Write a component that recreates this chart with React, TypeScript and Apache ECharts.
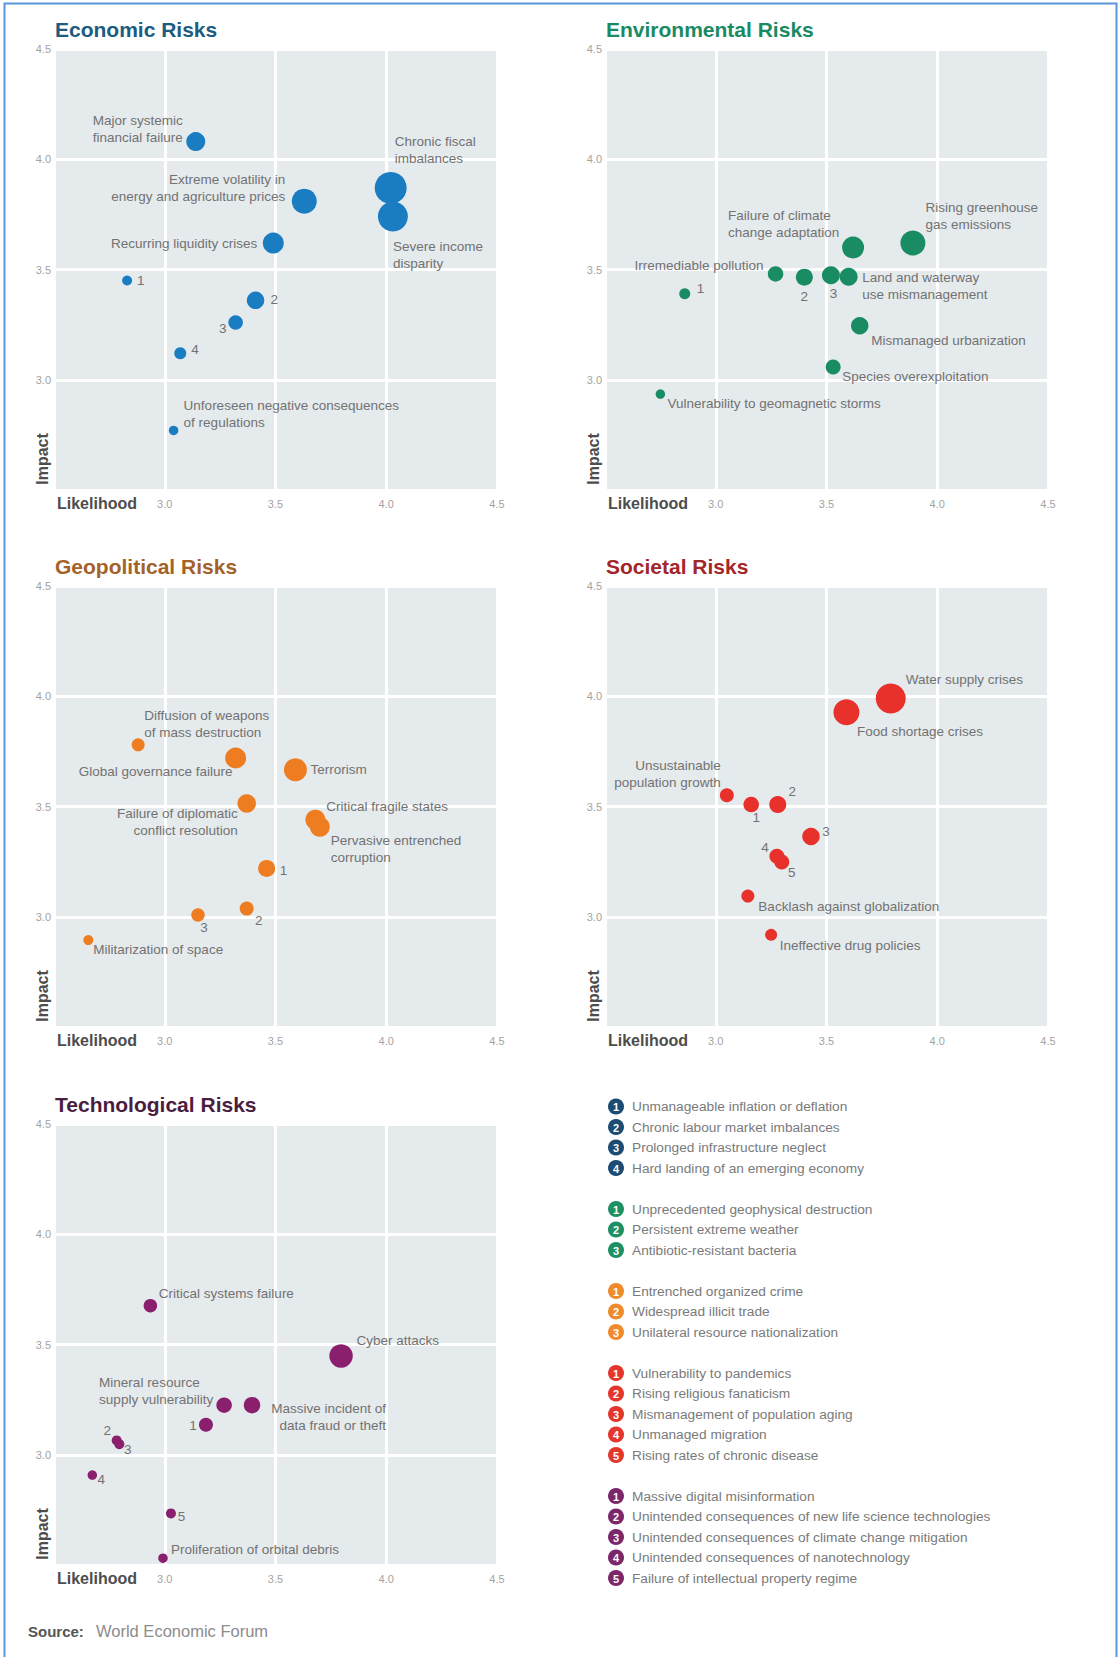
import React, { useEffect, useRef } from "react";
import * as echarts from "echarts";

// ---------- DATA ----------
const econNames = [
  "Major systemic\nfinancial failure",
  "Extreme volatility in\nenergy and agriculture prices",
  "Chronic fiscal\nimbalances",
  "Severe income\ndisparity",
  "Recurring liquidity crises",
  "1",
  "2",
  "3",
  "4",
  "Unforeseen negative consequences\nof regulations",
];
const econLikelihood = [3.14, 3.63, 4.02, 4.03, 3.49, 2.83, 3.41, 3.32, 3.07, 3.04];
const econImpact = [4.08, 3.81, 3.87, 3.74, 3.62, 3.45, 3.36, 3.26, 3.12, 2.77];
const econWeight = [1.9, 2.5, 3.2, 3.0, 2.1, 1.0, 1.75, 1.45, 1.2, 0.95];

const envNames = [
  "Rising greenhouse\ngas emissions",
  "Failure of climate\nchange adaptation",
  "Irremediable pollution",
  "2",
  "3",
  "Land and waterway\nuse mismanagement",
  "Mismanaged urbanization",
  "Species overexploitation",
  "1",
  "Vulnerability to geomagnetic storms",
];
const envLikelihood = [3.89, 3.62, 3.27, 3.4, 3.52, 3.6, 3.65, 3.53, 2.86, 2.75];
const envImpact = [3.62, 3.6, 3.48, 3.465, 3.474, 3.467, 3.245, 3.058, 3.39, 2.935];
const envWeight = [2.5, 2.2, 1.55, 1.7, 1.8, 1.8, 1.75, 1.5, 1.1, 0.95];

const geoNames = [
  "Diffusion of weapons\nof mass destruction",
  "Global governance failure",
  "Terrorism",
  "Failure of diplomatic\nconflict resolution",
  "Critical fragile states",
  "Pervasive entrenched\ncorruption",
  "1",
  "2",
  "3",
  "Militarization of space",
];
const geoLikelihood = [2.88, 3.32, 3.59, 3.37, 3.68, 3.7, 3.46, 3.37, 3.15, 2.655];
const geoImpact = [3.78, 3.72, 3.667, 3.514, 3.44, 3.408, 3.219, 3.037, 3.008, 2.894];
const geoWeight = [1.3, 2.1, 2.3, 1.85, 2.0, 2.0, 1.7, 1.4, 1.35, 1.0];

const socNames = [
  "Water supply crises",
  "Food shortage crises",
  "Unsustainable\npopulation growth",
  "1",
  "2",
  "3",
  "4",
  "5",
  "Backlash against globalization",
  "Ineffective drug policies",
];
const socLikelihood = [3.79, 3.59, 3.05, 3.16, 3.28, 3.43, 3.276, 3.298, 3.145, 3.25];
const socImpact = [3.99, 3.927, 3.551, 3.509, 3.509, 3.364, 3.274, 3.248, 3.094, 2.918];
const socWeight = [3.0, 2.6, 1.4, 1.55, 1.7, 1.75, 1.5, 1.5, 1.3, 1.2];

const techNames = [
  "Critical systems failure",
  "Cyber attacks",
  "Mineral resource\nsupply vulnerability",
  "Massive incident of\ndata fraud or theft",
  "1",
  "2",
  "3",
  "4",
  "5",
  "Proliferation of orbital debris",
];
const techLikelihood = [2.935, 3.796, 3.268, 3.394, 3.186, 2.783, 2.795, 2.673, 3.028, 2.992];
const techImpact = [3.676, 3.448, 3.225, 3.225, 3.136, 3.065, 3.048, 2.908, 2.734, 2.531];
const techWeight = [1.35, 2.35, 1.55, 1.65, 1.4, 1.0, 1.0, 0.95, 1.0, 0.95];

const econLegend = [
  "Unmanageable inflation or deflation",
  "Chronic labour market imbalances",
  "Prolonged infrastructure neglect",
  "Hard landing of an emerging economy",
];
const envLegend = [
  "Unprecedented geophysical destruction",
  "Persistent extreme weather",
  "Antibiotic-resistant bacteria",
];
const geoLegend = [
  "Entrenched organized crime",
  "Widespread illicit trade",
  "Unilateral resource nationalization",
];
const socLegend = [
  "Vulnerability to pandemics",
  "Rising religious fanaticism",
  "Mismanagement of population aging",
  "Unmanaged migration",
  "Rising rates of chronic disease",
];
const techLegend = [
  "Massive digital misinformation",
  "Unintended consequences of new life science technologies",
  "Unintended consequences of climate change mitigation",
  "Unintended consequences of nanotechnology",
  "Failure of intellectual property regime",
];

const axisMin = 2.5;
const axisMax = 4.5;
const axisStep = 0.5;

// ---------- LAYOUT (label placements: [dx, dy, align]) ----------
const econLabelLayout: [number, number, string][] = [
  [-13, -13, "right"], [-19, -13, "right"], [4, -38, "left"], [0, 38, "left"], [-16, 0, "right"],
  [10, 0, "left"], [15, -1, "left"], [-9, 6, "right"], [11, -4, "left"], [10, -16, "left"],
];
const envLabelLayout: [number, number, string][] = [
  [12.5, -27, "left"], [-125, -23, "left"], [-12, -8, "right"], [0, 19, "center"], [2.5, 18, "center"],
  [13.5, 9, "left"], [11.5, 15, "left"], [9, 10, "left"], [12, -5, "left"], [7, 9, "left"],
];
const geoLabelLayout: [number, number, string][] = [
  [6, -20.5, "left"], [-3, 14, "right"], [15, 0, "left"], [-9, 19, "right"], [11, -13, "left"],
  [11, 22, "left"], [13, 2, "left"], [12, 12, "center"], [6, 12.5, "center"], [5, 9, "left"],
];
const socLabelLayout: [number, number, string][] = [
  [15, -19, "left"], [10.5, 19.5, "left"], [-6, -21.5, "right"], [5, 12.5, "center"], [14.5, -13, "center"],
  [15, -4.5, "center"], [-12, -8.5, "center"], [10, 10, "center"], [10.5, 10, "left"], [8.5, 10.5, "left"],
];
const techLabelLayout: [number, number, string][] = [
  [8.5, -12, "left"], [15.5, -15.5, "left"], [-125, -14.5, "left"], [134, 11.5, "right"], [-13, 1, "center"],
  [-9.5, -10, "center"], [8.5, 5, "center"], [9, 4.5, "center"], [10.5, 3.5, "center"], [8, -8.5, "left"],
];

const FONT = "'Liberation Sans', Arial, Helvetica, sans-serif";
const colLeft = [54, 605];
const rowTop = [49, 586, 1124];
const PW = 443;
const PH = 441;

const panels = [
  { title: "Economic Risks", titleColor: "#1b5c80", dot: "#1a7dc2", legendColor: "#1c4b73",
    names: econNames, x: econLikelihood, y: econImpact, w: econWeight, layout: econLabelLayout, legend: econLegend, col: 0, row: 0 },
  { title: "Environmental Risks", titleColor: "#1a8a62", dot: "#1a8c63", legendColor: "#1f9063",
    names: envNames, x: envLikelihood, y: envImpact, w: envWeight, layout: envLabelLayout, legend: envLegend, col: 1, row: 0 },
  { title: "Geopolitical Risks", titleColor: "#a5612a", dot: "#ee7d22", legendColor: "#ef8a2d",
    names: geoNames, x: geoLikelihood, y: geoImpact, w: geoWeight, layout: geoLabelLayout, legend: geoLegend, col: 0, row: 1 },
  { title: "Societal Risks", titleColor: "#a3262b", dot: "#e8312a", legendColor: "#e3372d",
    names: socNames, x: socLikelihood, y: socImpact, w: socWeight, layout: socLabelLayout, legend: socLegend, col: 1, row: 1 },
  { title: "Technological Risks", titleColor: "#4a1d3f", dot: "#8a1f6e", legendColor: "#7b276a",
    names: techNames, x: techLikelihood, y: techImpact, w: techWeight, layout: techLabelLayout, legend: techLegend, col: 0, row: 2 },
];

function buildOption() {
  const fmt = (v: number) => (Math.abs(v - axisMin) < 1e-6 ? "" : v.toFixed(1));
  const grid = panels.map((p) => ({
    left: colLeft[p.col], top: rowTop[p.row], width: PW, height: PH,
    show: true, backgroundColor: "#e5eaed", borderWidth: 0,
  }));
  const axisCommon = {
    type: "value", min: axisMin, max: axisMax, interval: axisStep,
    axisLine: { show: false }, axisTick: { show: false },
    splitLine: { show: true, lineStyle: { color: "#ffffff", width: 3 } },
  };
  const xAxis = panels.map((_, i) => ({
    ...axisCommon, gridIndex: i,
    axisLabel: { formatter: fmt, color: "#a3a3a3", fontSize: 11, margin: 8, fontFamily: FONT },
  }));
  const yAxis = panels.map((_, i) => ({
    ...axisCommon, gridIndex: i,
    axisLabel: { formatter: fmt, color: "#a3a3a3", fontSize: 11, margin: 3, fontFamily: FONT },
  }));
  const series = panels.map((p, i) => ({
    type: "scatter", xAxisIndex: i, yAxisIndex: i, silent: true,
    symbolSize: (v: number[]) => v[2] * 10,
    itemStyle: { color: p.dot, opacity: 1 },
    label: {
      show: true, position: "inside", formatter: "{b}", color: "#727272",
      fontSize: 13.5, lineHeight: 17, verticalAlign: "middle", fontFamily: FONT,
    },
    data: p.names.map((n, k) => ({
      name: n,
      value: [p.x[k], p.y[k], p.w[k]],
      label: { offset: [p.layout[k][0], p.layout[k][1]], align: p.layout[k][2] },
    })),
  }));

  const graphic: any[] = [];
  graphic.push({
    type: "rect", shape: { x: 4.5, y: 3.5, width: 1112, height: 1700 },
    style: { fill: "none", stroke: "#5a96dc", lineWidth: 2 }, silent: true, z: 100,
  });
  panels.forEach((p) => {
    const L = colLeft[p.col];
    const T = rowTop[p.row];
    graphic.push({
      type: "text", x: L + 1, y: T - 20,
      style: { text: p.title, fill: p.titleColor, font: `bold 21px ${FONT}`, textAlign: "left", textVerticalAlign: "middle" },
    });
    graphic.push({
      type: "text", x: L + 3, y: T + PH + 13,
      style: { text: "Likelihood", fill: "#4d4d4d", font: `bold 16px ${FONT}`, textAlign: "left", textVerticalAlign: "middle" },
    });
    graphic.push({
      type: "text", x: L - 12, y: T + PH - 31, rotation: Math.PI / 2,
      style: { text: "Impact", fill: "#4d4d4d", font: `bold 16px ${FONT}`, textAlign: "center", textVerticalAlign: "middle" },
    });
  });

  // numbered key
  let row = 0;
  const legendTop = 1106.5;
  const legendStep = 20.5;
  panels.forEach((p) => {
    p.legend.forEach((t, k) => {
      const cy = legendTop + row * legendStep;
      graphic.push({ type: "circle", shape: { cx: 616, cy, r: 8 }, style: { fill: p.legendColor } });
      graphic.push({
        type: "text", x: 616, y: cy + 0.5,
        style: { text: String(k + 1), fill: "#ffffff", font: `bold 11px ${FONT}`, textAlign: "center", textVerticalAlign: "middle" },
      });
      graphic.push({
        type: "text", x: 632, y: cy,
        style: { text: t, fill: "#7a7a7a", font: `13.7px ${FONT}`, textAlign: "left", textVerticalAlign: "middle" },
      });
      row++;
    });
    row++;
  });

  graphic.push({
    type: "text", x: 28, y: 1631,
    style: { text: "Source:", fill: "#555555", font: `bold 15px ${FONT}`, textAlign: "left", textVerticalAlign: "middle" },
  });
  graphic.push({
    type: "text", x: 96, y: 1631,
    style: { text: "World Economic Forum", fill: "#8c8c8c", font: `16.5px ${FONT}`, textAlign: "left", textVerticalAlign: "middle" },
  });

  return {
    animation: false,
    backgroundColor: "#ffffff",
    grid, xAxis, yAxis, series, graphic,
  };
}

export default function App() {
  const ref = useRef<HTMLDivElement>(null);
  useEffect(() => {
    if (!ref.current) return;
    const chart = echarts.init(ref.current, undefined, { renderer: "svg" });
    chart.setOption(buildOption() as any);
    return () => chart.dispose();
  }, []);
  return (
    <div
      ref={ref}
      style={{ position: "absolute", left: 0, top: 0, width: 1120, height: 1657, background: "#fff" }}
    />
  );
}
